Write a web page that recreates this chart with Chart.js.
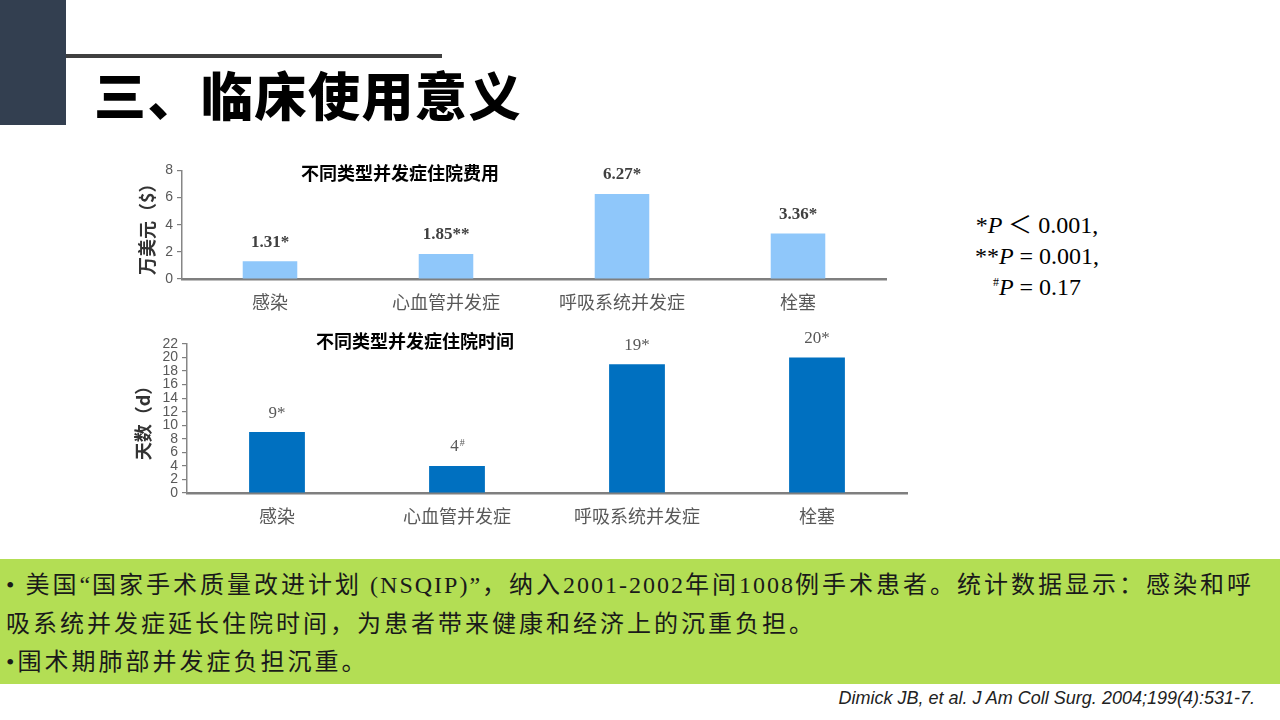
<!DOCTYPE html>
<html lang="zh-CN">
<head>
    <meta charset="UTF-8">
    <title>三、临床使用意义</title>
    <script src="https://cdn.jsdelivr.net/npm/chart.js"></script>
    <style>
        body {
            margin: 0;
            width: 1280px;
            height: 720px;
            position: relative;
            overflow: hidden;
            background: #ffffff;
            font-family: 'Noto Sans CJK SC', sans-serif;
        }

        .bloque {
            position: absolute;
            left: 0; top: 0;
            width: 66px; height: 125px;
            background: #333f50;
        }

        .linea {
            position: absolute;
            left: 66px; top: 54px;
            width: 376px; height: 4px;
            background: #404040;
        }

        h1 {
            position: absolute;
            left: 94px; top: 58px;
            margin: 0;
            font-size: 52px;
            font-weight: 900;
            line-height: 72px;
            color: #000;
            letter-spacing: 1.5px;
        }

        .caja {
            position: absolute;
        }

        .titulo {
            position: absolute;
            transform: translate(-50%, -50%);
            font-size: 18px;
            font-weight: 700;
            color: #000;
            white-space: nowrap;
        }

        .pvalores {
            position: absolute;
            left: 937px; top: 210px;
            width: 200px;
            text-align: center;
            font-family: 'Liberation Serif', serif;
            font-size: 24px;
            line-height: 31px;
            color: #000;
        }
        .pvalores i { font-style: italic; }
        .pvalores sup { font-size: 12px; vertical-align: 9px; line-height: 0; }

        .verde {
            position: absolute;
            left: 0; top: 559px;
            width: 1280px; height: 125px;
            background: #b3de54;
        }

        .verde p {
            margin: 0;
            padding: 7px 0 0 6px;
            font-family: 'Liberation Serif', 'Noto Sans CJK SC', serif;
            font-size: 24px;
            line-height: 38.5px;
            letter-spacing: 3px;
            color: #1a1a1a;
            white-space: nowrap;
        }
        .verde .lat { letter-spacing: 2px; }

        .cita {
            position: absolute;
            right: 25px; top: 688px;
            font-family: 'Liberation Sans Narrow', 'Liberation Sans', sans-serif;
            font-style: italic;
            font-size: 18px;
            color: #222;
        }
    </style>
</head>
<body>

<div class="bloque"></div>
<div class="linea"></div>
<h1>三、临床使用意义</h1>

<div class="caja" style="left:130px; top:158px; width:760px; height:160px;">
    <canvas id="graficoCosto"></canvas>
</div>
<div class="titulo" style="left:400px; top:172px;">不同类型并发症住院费用</div>

<div class="caja" style="left:130px; top:330px; width:790px; height:200px;">
    <canvas id="graficoDias"></canvas>
</div>
<div class="titulo" style="left:415px; top:340px;">不同类型并发症住院时间</div>

<div class="pvalores">
    *<i>P</i> ＜ 0.001,<br>
    **<i>P</i> = 0.001,<br>
    <sup>#</sup><i>P</i> = 0.17
</div>

<div class="verde">
    <p>•<span class="lat"> </span>美国<span class="lat">“</span>国家手术质量改进计划<span class="lat"> (NSQIP)”</span>，纳入<span class="lat">2001-2002</span>年间<span class="lat">1008</span>例手术患者。统计数据显示：感染和呼<br>
    吸系统并发症延长住院时间，为患者带来健康和经济上的沉重负担。<br>
    •围术期肺部并发症负担沉重。</p>
</div>

<div class="cita">Dimick JB, et al. J Am Coll Surg. 2004;199(4):531-7.</div>

<script>
    // datos
    const categorias = ['感染', '心血管并发症', '呼吸系统并发症', '栓塞'];

    const costoValores = [1.31, 1.85, 6.27, 3.36];   // 万美元
    const costoMarcas = ['*', '**', '*', '*'];
    const costoTicks = [0, 2, 4, 6, 8];

    const diasValores = [9, 4, 19, 20];               // 天
    const diasMarcas = ['*', '#', '*', '*'];
    const diasTicks = [0, 2, 4, 6, 8, 10, 12, 14, 16, 18, 20, 22];

    Chart.defaults.font.family = "'Noto Sans CJK SC', sans-serif";
    Chart.defaults.animation = false;

    // etiquetas encima de cada barra
    function etiquetas(valores, marcas, fuente, color, decimales) {
        return {
            id: 'etiquetas',
            afterDatasetsDraw(chart) {
                const ctx = chart.ctx;
                const barras = chart.getDatasetMeta(0).data;
                ctx.save();
                ctx.fillStyle = color;
                ctx.textBaseline = 'middle';
                barras.forEach((barra, i) => {
                    const texto = valores[i].toFixed(decimales);
                    const y = barra.y - 19;
                    ctx.font = fuente(17);
                    if (marcas[i] === '#') {
                        const w1 = ctx.measureText(texto).width;
                        ctx.font = fuente(10);
                        const w2 = ctx.measureText('#').width;
                        const x0 = barra.x - (w1 + w2) / 2;
                        ctx.textAlign = 'left';
                        ctx.font = fuente(17);
                        ctx.fillText(texto, x0, y);
                        ctx.font = fuente(10);
                        ctx.fillText('#', x0 + w1 + 1, y - 4);
                    } else {
                        ctx.textAlign = 'center';
                        ctx.fillText(texto + marcas[i], barra.x, y);
                    }
                });
                ctx.restore();
            }
        };
    }

    function crearGrafico(id, cfg) {
        const ctx = document.getElementById(id).getContext('2d');
        return new Chart(ctx, {
            type: 'bar',
            data: {
                labels: categorias,
                datasets: [{
                    data: cfg.valores,
                    backgroundColor: cfg.color,
                    barPercentage: 0.31,
                    categoryPercentage: 1
                }]
            },
            options: {
                responsive: true,
                maintainAspectRatio: false,
                layout: { padding: cfg.padding },
                plugins: {
                    legend: { display: false },
                    tooltip: { enabled: false }
                },
                scales: {
                    x: {
                        afterFit: s => { s.height = cfg.altoX; },
                        grid: { display: true, drawOnChartArea: false, drawTicks: false },
                        border: { display: true, color: '#7f7f7f', width: 2.5 },
                        ticks: {
                            padding: 12,
                            color: '#595959',
                            font: { size: 18 }
                        }
                    },
                    y: {
                        min: cfg.ticks[0],
                        max: cfg.ticks[cfg.ticks.length - 1],
                        afterFit: s => { s.width = cfg.anchoY; },
                        grid: { drawOnChartArea: false, tickLength: 5, color: '#7f7f7f', lineWidth: 1.2 },
                        border: { display: true, color: '#868686', width: 1.5 },
                        ticks: {
                            stepSize: cfg.ticks[1] - cfg.ticks[0],
                            autoSkip: false,
                            padding: 4,
                            color: '#595959',
                            font: { family: "'Liberation Sans', sans-serif", size: cfg.tamTick }
                        },
                        title: {
                            display: true,
                            text: cfg.tituloY,
                            color: '#333333',
                            font: { size: 18, weight: 'bold' },
                            padding: { top: cfg.padTitulo, bottom: 0 }
                        }
                    }
                }
            },
            plugins: [etiquetas(cfg.valores, cfg.marcas, cfg.fuente, cfg.colorTexto, cfg.decimales)]
        });
    }

    crearGrafico('graficoCosto', {
        valores: costoValores,
        marcas: costoMarcas,
        ticks: costoTicks,
        color: '#8fc7fa',
        tituloY: '万美元（$）',
        padding: { top: 11, right: 4, left: 0, bottom: 0 },
        altoX: 39,
        anchoY: 52,
        padTitulo: 6,
        tamTick: 14,
        decimales: 2,
        colorTexto: '#404040',
        fuente: s => `bold ${s}px 'Liberation Serif', serif`
    });

    crearGrafico('graficoDias', {
        valores: diasValores,
        marcas: diasMarcas,
        ticks: diasTicks,
        color: '#0070c0',
        tituloY: '天数（d）',
        padding: { top: 14, right: 13, left: 0, bottom: 0 },
        altoX: 37,
        anchoY: 57,
        padTitulo: 2,
        tamTick: 14,
        decimales: 0,
        colorTexto: '#595959',
        fuente: s => `${s}px 'Liberation Serif', serif`
    });
</script>

</body>
</html>
